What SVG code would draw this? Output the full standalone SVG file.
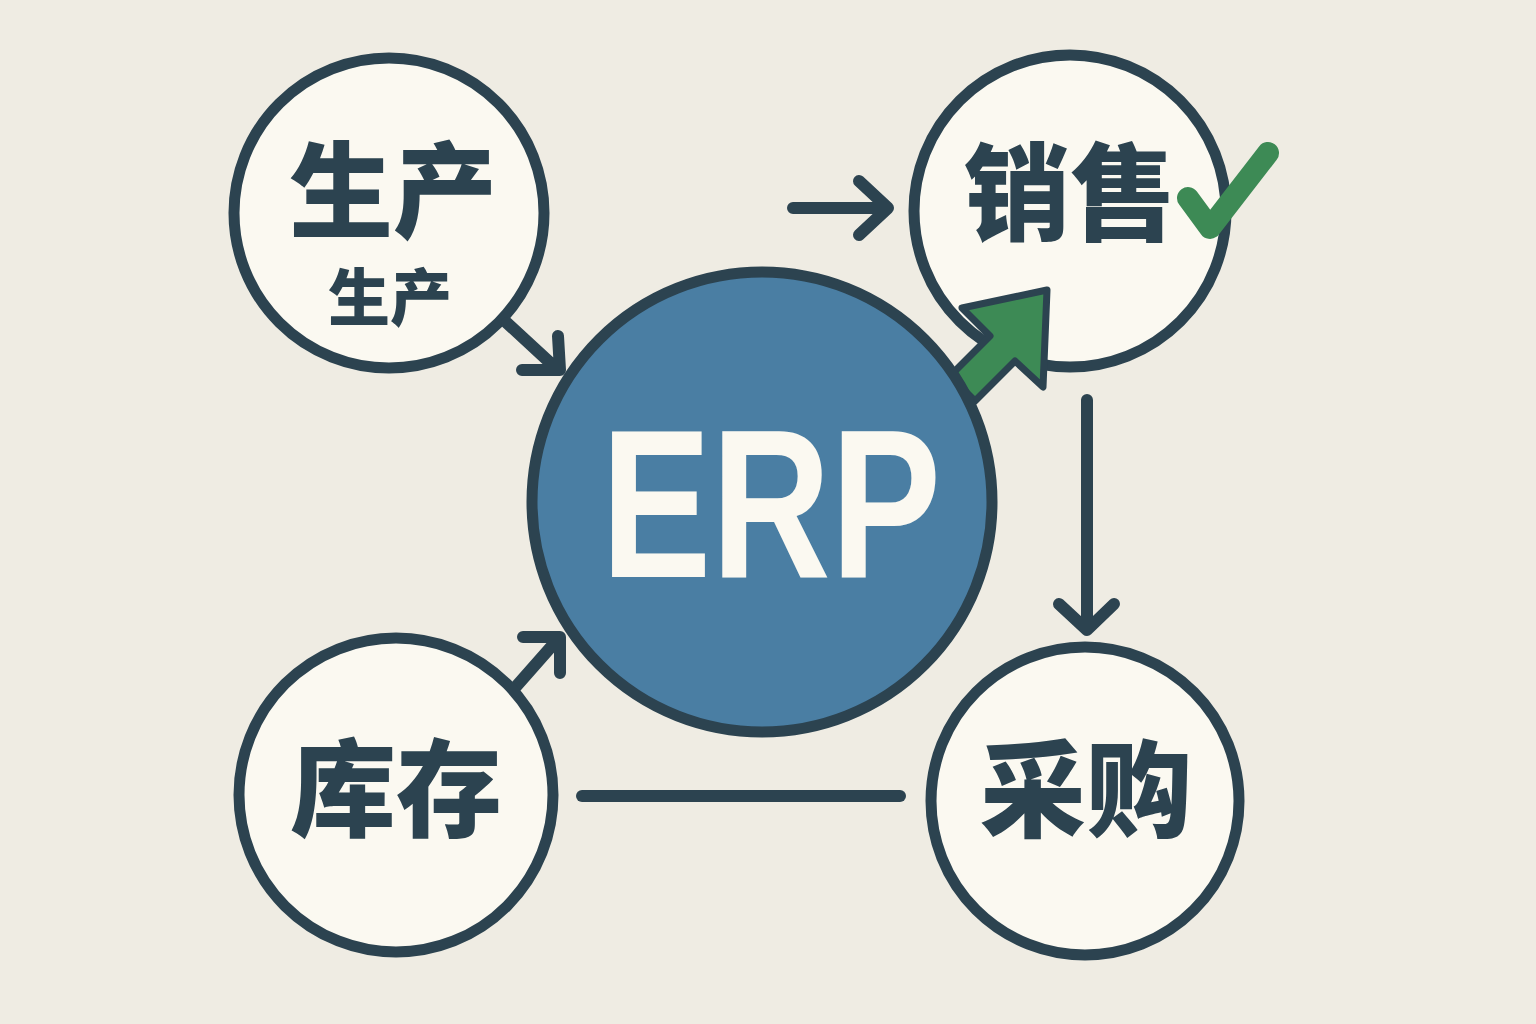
<svg xmlns="http://www.w3.org/2000/svg" width="1536" height="1024" viewBox="0 0 1536 1024">
<style>
.node{fill:#fbf9f1;stroke:#2c4350;stroke-width:11}
.cjk{font-family:"Noto Sans CJK SC","Noto Sans",sans-serif;font-weight:900;fill:#2c4350;text-anchor:middle;dominant-baseline:central}
.con{fill:none;stroke:#2c4350;stroke-width:12;stroke-linecap:round;stroke-linejoin:round}
</style>
<rect width="1536" height="1024" fill="#efece3"/>
<g id="node-production">
<circle class="node" cx="389" cy="213" r="155"/>
<text class="cjk" x="393" y="184" font-size="104">生产</text>
<text class="cjk" x="390" y="294" font-size="62">生产</text>
</g>
<g id="node-sales">
<circle class="node" cx="1070" cy="211" r="156"/>
<text class="cjk" x="1070" y="186" font-size="106">销售</text>
<path d="M1188 198 L1210 228 L1268 153" fill="none" stroke="#3d8a55" stroke-width="22" stroke-linecap="round" stroke-linejoin="round"/>
</g>
<g id="connectors">
<path class="con" d="M507 323 L558 370 M522 370 L560 370 L558 336"/>
<path class="con" d="M513 690 L558 639 M523 637 L560 637 L560 673"/>
<path class="con" d="M793 208 L888 208 M859 181 L888 208 L859 235"/>
<path class="con" d="M1087 400 L1087 628 M1059 604 L1087 630 L1114 604"/>
<path class="con" d="M582 796 L900 796"/>
<polygon points="1047,290 962,308 990,336 950,376 975,401 1015,361 1043,387" fill="#3d8a55" stroke="#2c4350" stroke-width="7" stroke-linejoin="round"/>
</g>
<g id="node-erp">
<circle cx="762" cy="502" r="230" fill="#4a7ea3" stroke="#2c4350" stroke-width="11"/>
<text x="771" y="577" font-family="Liberation Sans, Arial, sans-serif" font-weight="700" font-size="212" fill="#fbf9f1" text-anchor="middle" textLength="340" lengthAdjust="spacingAndGlyphs">ERP</text>
</g>
<g id="node-inventory">
<circle class="node" cx="396" cy="795" r="157"/>
<text class="cjk" x="396" y="782" font-size="106">库存</text>
</g>
<g id="node-purchase">
<circle class="node" cx="1085" cy="801" r="154"/>
<text class="cjk" x="1086" y="783" font-size="106">采购</text>
</g>
</svg>
